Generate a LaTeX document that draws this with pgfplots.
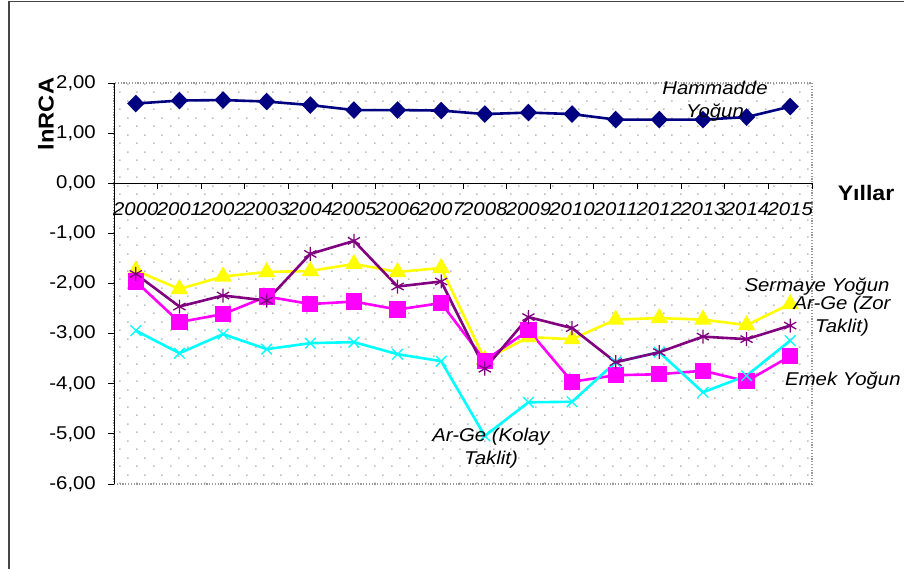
\documentclass[border=0pt]{standalone}
\usepackage{fontspec}
\setmainfont{Liberation Sans}[FakeStretch=1.1]
\usepackage{pgfplots}
\pgfplotsset{compat=1.18}
\usepackage{pgfplotstable}
\usetikzlibrary{patterns}

\pgfdeclarepatternformonly{xldots}{\pgfqpoint{0pt}{0pt}}{\pgfqpoint{17pt}{17pt}}{\pgfqpoint{17pt}{17pt}}{%
  \pgfpathrectangle{\pgfqpoint{0pt}{0pt}}{\pgfqpoint{1.6pt}{1.6pt}}%
  \pgfpathrectangle{\pgfqpoint{8.5pt}{8.5pt}}{\pgfqpoint{1.6pt}{1.6pt}}%
  \pgfusepath{fill}}

\definecolor{cnavy}{RGB}{0,0,128}
\definecolor{cmag}{RGB}{255,0,255}
\definecolor{cyel}{RGB}{255,255,0}
\definecolor{ccya}{RGB}{0,255,255}
\definecolor{cpur}{RGB}{128,0,128}

\pgfplotstableread{
x nav yel pur mag cya
0 1.59 -1.74 -1.81 -1.96 -2.94
1 1.65 -2.11 -2.46 -2.77 -3.39
2 1.66 -1.86 -2.24 -2.61 -3.01
3 1.63 -1.77 -2.34 -2.26 -3.31
4 1.56 -1.75 -1.41 -2.41 -3.19
5 1.46 -1.61 -1.15 -2.36 -3.17
6 1.46 -1.77 -2.06 -2.52 -3.41
7 1.45 -1.69 -1.96 -2.39 -3.55
8 1.38 -3.52 -3.70 -3.54 -5.04
9 1.41 -3.07 -2.67 -2.93 -4.37
10 1.38 -3.11 -2.89 -3.96 -4.36
11 1.27 -2.72 -3.57 -3.83 -3.57
12 1.27 -2.69 -3.37 -3.81 -3.37
13 1.27 -2.72 -3.06 -3.74 -4.17
14 1.32 -2.83 -3.11 -3.95 -3.84
15 1.53 -2.41 -2.84 -3.45 -3.14
}\data

\newcommand{\fs}{\fontsize{18.5}{23}\selectfont}

\begin{document}
\begin{tikzpicture}
\path[use as bounding box] (0,0) rectangle (904pt,569pt);
\draw[gray!55!black, line width=1.3pt] (9pt,0) -- (9pt,567.5pt) -- (904pt,567.5pt);
\begin{axis}[
  at={(114pt,85pt)}, anchor=south west,
  scale only axis, width=698pt, height=401pt,
  xmin=-0.5, xmax=15.5, ymin=-6, ymax=2,
  axis x line=middle, axis y line=left,
  axis line style={-, black, line width=0.9pt},
  hide obscured x ticks=false, hide obscured y ticks=false,
  xtick={0,...,15},
  xticklabels={2000,2001,2002,2003,2004,2005,2006,2007,2008,2009,2010,2011,2012,2013,2014,2015},
  major x tick style={draw=none},
  minor xtick={-0.5,0.5,...,15.5},
  minor x tick style={black, line width=0.9pt},
  major tick length=6pt, minor tick length=6pt,
  tick align=outside,
  ytick={-6,-5,...,2},
  yticklabels={{-6,00},{-5,00},{-4,00},{-3,00},{-2,00},{-1,00},{0,00},{1,00},{2,00}},
  y tick style={black, line width=0.9pt},
  xticklabel style={font=\fs\itshape, inner sep=1pt, yshift=-12pt},
  yticklabel style={font=\fs, inner sep=1pt, xshift=-11pt},
  /pgf/number format/assume math mode=true,
  axis background/.style={draw=gray!80, line width=1.2pt, dash pattern=on 1.2pt off 1.6pt, pattern=xldots, pattern color=gray!50},
  clip=false,
]
\addplot[cnavy, line width=2.6pt, mark=diamond*, mark size=7pt, mark options={xscale=1.3, solid}] table[x=x, y=nav] {\data};
\addplot[cyel, line width=2.6pt, mark=triangle*, mark size=7.5pt, mark options={solid}] table[x=x, y=yel] {\data};
\addplot[cmag, line width=2.6pt, mark=square*, mark size=6.8pt, mark options={solid}] table[x=x, y=mag] {\data};
\addplot[ccya, line width=2.6pt, mark=x, mark size=7.5pt, mark options={solid, line width=1.3pt}] table[x=x, y=cya] {\data};
\addplot[cpur, line width=2.6pt, mark=asterisk, mark size=7pt, mark options={solid, line width=1.3pt}] table[x=x, y=pur] {\data};
\end{axis}
\node[font=\bfseries\fontsize{21.5}{26}\selectfont, rotate=90] at (46pt,455pt) {lnRCA};
\node[font=\bfseries\fontsize{21}{26}\selectfont] at (866pt,376pt) {Yıllar};
\node[font=\fs\itshape, align=center] at (715pt,468pt) {Hammadde\\Yoğun};
\node[font=\fs\itshape] at (817pt,282pt) {Sermaye Yoğun};
\node[font=\fs\itshape, align=center] at (842pt,253pt) {Ar-Ge (Zor\\Taklit)};
\node[font=\fs\itshape, anchor=west, inner sep=0pt] at (785pt,188pt) {Emek Yoğun};
\node[font=\fs\itshape, align=center] at (491pt,121pt) {Ar-Ge (Kolay\\Taklit)};
\end{tikzpicture}
\end{document}
